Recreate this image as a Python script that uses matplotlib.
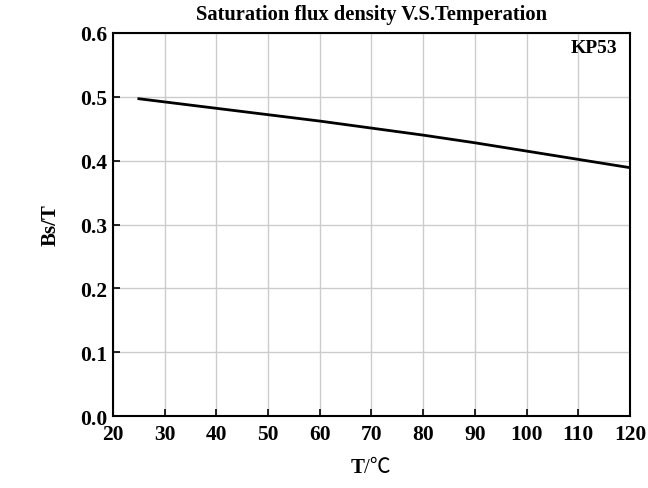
import matplotlib
matplotlib.use('Agg')
from matplotlib import pyplot as plt

"""Saturation flux density vs temperature for KP53"""

temps = [25, 30, 40, 50, 60, 70, 80, 90, 100, 110, 120]
bs = [0.497, 0.492, 0.482, 0.472, 0.462, 0.451, 0.440, 0.428, 0.415, 0.402, 0.389]
xticks = [20, 30, 40, 50, 60, 70, 80, 90, 100, 110, 120]
yticks = [0.0, 0.1, 0.2, 0.3, 0.4, 0.5, 0.6]

plt.rcParams['font.family'] = ['Liberation Serif', 'Noto Sans CJK SC', 'DejaVu Serif']

fig = plt.figure(figsize=(6.48, 4.89), dpi=100)
ax = fig.add_axes([0.1744, 0.1472, 0.7978, 0.7833])

ax.plot(temps, bs, color='black', lw=2)
ax.set_xlim(20, 120)
ax.set_ylim(0, 0.6)
ax.set_xticks(xticks)
ax.set_yticks(yticks)
ax.set_yticklabels(['%.1f' % v for v in yticks])
ax.grid(True, color='#cccccc', lw=1)
ax.set_axisbelow(True)
ax.tick_params(direction='in', length=5, width=1.2, labelsize=15.5)
ax.tick_params(axis='x', pad=6)
ax.tick_params(axis='y', pad=4)
for lbl in ax.get_xticklabels() + ax.get_yticklabels():
    lbl.set_fontweight('bold')
for sp in ax.spines.values():
    sp.set_linewidth(1.5)

ax.set_title('Saturation flux density V.S.Temperation', fontsize=14.8, fontweight='bold', pad=10)
ax.set_ylabel('Bs/T', fontsize=15, fontweight='bold', labelpad=14)
# T bold, /℃ regular
fig.text(0.562, 0.033, 'T', fontsize=15, fontweight='bold', ha='right', va='baseline')
fig.text(0.562, 0.033, '/℃', fontsize=15, ha='left', va='baseline')
ax.text(0.975, 0.985, 'KP53', transform=ax.transAxes, ha='right', va='top',
        fontsize=14, fontweight='bold')

fig.savefig('out.png', dpi=100)
